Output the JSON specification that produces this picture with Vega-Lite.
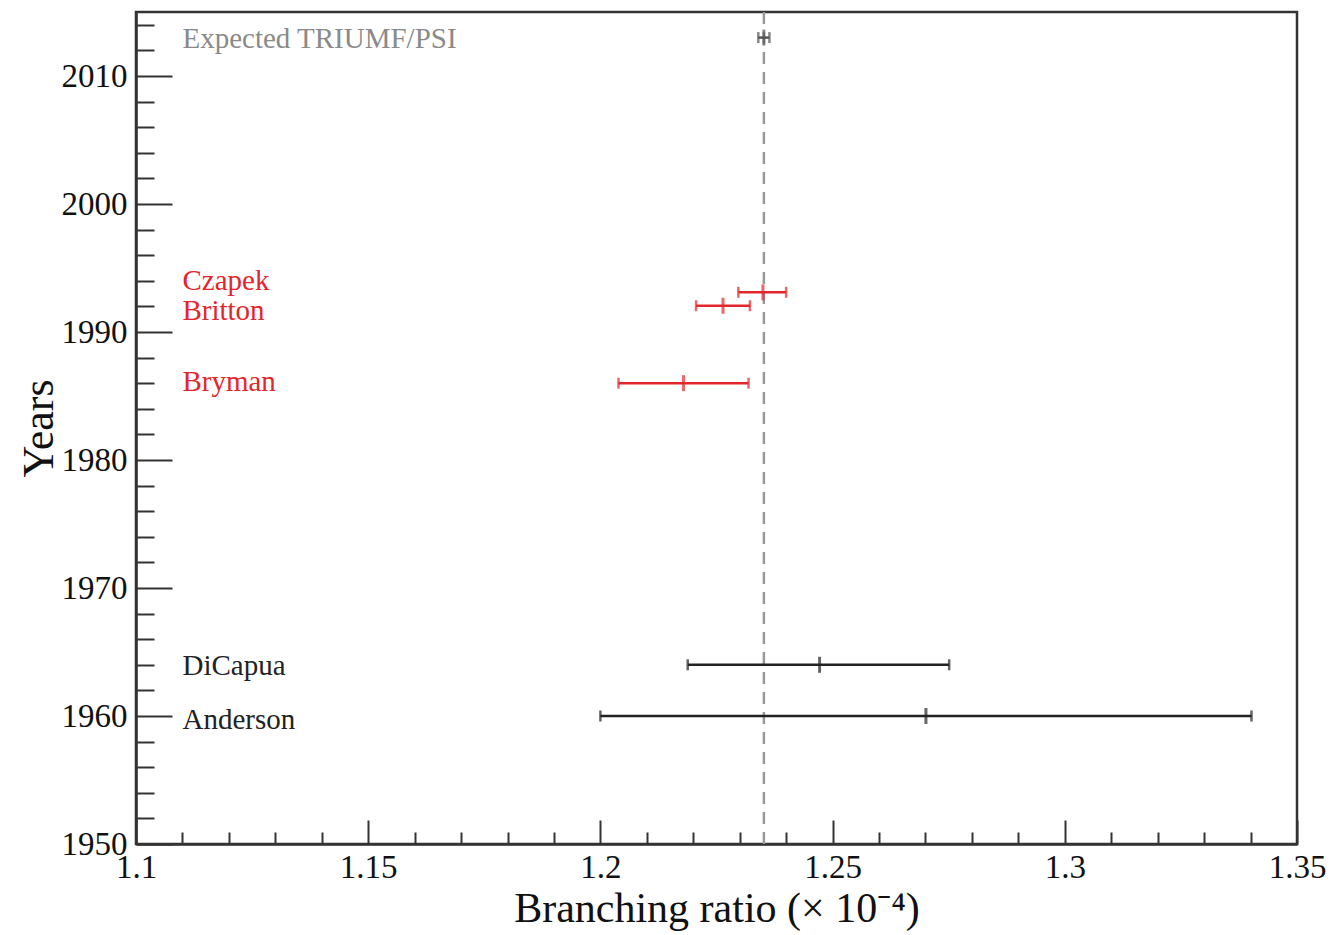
{
  "$schema": "https://vega.github.io/schema/vega-lite/v6.json",
  "width": 1161,
  "height": 832,
  "autosize": "none",
  "padding": {"left": 136, "top": 12, "right": 38, "bottom": 91},
  "background": "white",
  "config": {
    "view": {"stroke": "#333", "strokeWidth": 2.5},
    "font": "Liberation Serif",
    "axis": {"grid": false, "domainColor": "#333", "domainWidth": 2.5, "tickColor": "#333", "tickWidth": 2, "labelFont": "Liberation Serif", "titleFont": "Liberation Serif", "labelColor": "#111", "titleColor": "#111", "titleFontWeight": "normal", "labelOverlap": false, "labelFlush": false}
  },
  "datasets": {
    "meas": [
      {"name": "Expected TRIUMF/PSI", "group": "expected", "year": 2013, "br": 1.2352, "lo": 1.2340, "hi": 1.2364},
      {"name": "Czapek", "group": "psi", "year": 1993.1, "br": 1.2350, "lo": 1.2297, "hi": 1.2400},
      {"name": "Britton", "group": "psi", "year": 1992.05, "br": 1.2264, "lo": 1.2206, "hi": 1.2322},
      {"name": "Bryman", "group": "psi", "year": 1986.0, "br": 1.2179, "lo": 1.2039, "hi": 1.2319},
      {"name": "DiCapua", "group": "old", "year": 1964.0, "br": 1.2472, "lo": 1.2188, "hi": 1.2751},
      {"name": "Anderson", "group": "old", "year": 1960.0, "br": 1.2701, "lo": 1.2000, "hi": 1.3402}
    ],
    "ref": [{"br": 1.2352}]
  },
  "data": {"name": "meas"},
  "layer": [
    {
      "data": {"name": "ref"},
      "mark": {"type": "rule", "color": "#999", "strokeWidth": 2.5, "strokeDash": [12, 8]},
      "encoding": {
        "x": {
          "field": "br", "type": "quantitative",
          "scale": {"domain": [1.1, 1.35], "nice": false, "zero": false},
          "axis": {
            "values": [1.1,1.11,1.12,1.13,1.14,1.15,1.16,1.17,1.18,1.19,1.2,1.21,1.22,1.23,1.24,1.25,1.26,1.27,1.28,1.29,1.3,1.31,1.32,1.33,1.34,1.35],
            "tickCount": 60,
            "format": "~g",
            "labelExpr": "round(datum.value*100) % 5 == 0 ? datum.label : ''",
            "labelOverlap": false,
            "labelFlush": false,
            "tickSize": {"condition": {"test": "round(datum.value*100) % 5 == 0", "value": -24}, "value": -12},
            "labelFontSize": 33,
            "labelPadding": 31,
            "title": "Branching ratio (× 10⁻⁴)",
            "titleFontSize": 42,
            "titlePadding": -8
          }
        }
      }
    },
    {
      "mark": {"type": "rule", "strokeWidth": 2.5},
      "encoding": {
        "x": {"field": "lo", "type": "quantitative"},
        "x2": {"field": "hi"},
        "y": {
          "field": "year", "type": "quantitative",
          "scale": {"domain": [1950, 2015], "nice": false, "zero": false},
          "axis": {
            "values": [1950,1952,1954,1956,1958,1960,1962,1964,1966,1968,1970,1972,1974,1976,1978,1980,1982,1984,1986,1988,1990,1992,1994,1996,1998,2000,2002,2004,2006,2008,2010,2012,2014],
            "tickCount": 60,
            "format": "d",
            "labelExpr": "datum.value % 10 == 0 ? datum.label : ''",
            "labelOverlap": false,
            "tickSize": {"condition": {"test": "datum.value % 10 == 0", "value": -36}, "value": -18},
            "labelFontSize": 33,
            "labelPadding": 45,
            "title": "Years",
            "titleFontSize": 44,
            "titlePadding": 0
          }
        },
        "color": {"field": "group", "type": "nominal", "scale": {"domain": ["expected", "psi", "old"], "range": ["#555", "#e3262b", "#222"]}, "legend": null}
      }
    },
    {
      "mark": {"type": "tick", "orient": "vertical", "size": 11, "thickness": 2.5},
      "encoding": {
        "x": {"field": "lo", "type": "quantitative"},
        "y": {"field": "year", "type": "quantitative"},
        "color": {"field": "group", "type": "nominal", "legend": null}
      }
    },
    {
      "mark": {"type": "tick", "orient": "vertical", "size": 11, "thickness": 2.5},
      "encoding": {
        "x": {"field": "hi", "type": "quantitative"},
        "y": {"field": "year", "type": "quantitative"},
        "color": {"field": "group", "type": "nominal", "legend": null}
      }
    },
    {
      "mark": {"type": "tick", "orient": "vertical", "size": 16, "thickness": 3},
      "encoding": {
        "x": {"field": "br", "type": "quantitative"},
        "y": {"field": "year", "type": "quantitative"},
        "color": {"field": "group", "type": "nominal", "legend": null}
      }
    },
    {
      "transform": [{"filter": "datum.name == 'Expected TRIUMF/PSI'"}],
      "mark": {"type": "text", "align": "left", "baseline": "middle", "fontSize": 29, "color": "#8a8a8a", "font": "Liberation Serif", "dy": 1},
      "encoding": {"x": {"datum": 1.11}, "y": {"field": "year", "type": "quantitative"}, "text": {"field": "name"}}
    },
    {
      "transform": [{"filter": "datum.name == 'Czapek'"}],
      "mark": {"type": "text", "align": "left", "baseline": "middle", "fontSize": 29, "color": "#e3262b", "font": "Liberation Serif", "dy": -11},
      "encoding": {"x": {"datum": 1.11}, "y": {"field": "year", "type": "quantitative"}, "text": {"field": "name"}}
    },
    {
      "transform": [{"filter": "datum.name == 'Britton'"}],
      "mark": {"type": "text", "align": "left", "baseline": "middle", "fontSize": 29, "color": "#e3262b", "font": "Liberation Serif", "dy": 5},
      "encoding": {"x": {"datum": 1.11}, "y": {"field": "year", "type": "quantitative"}, "text": {"field": "name"}}
    },
    {
      "transform": [{"filter": "datum.name == 'Bryman'"}],
      "mark": {"type": "text", "align": "left", "baseline": "middle", "fontSize": 29, "color": "#e3262b", "font": "Liberation Serif", "dy": -1},
      "encoding": {"x": {"datum": 1.11}, "y": {"field": "year", "type": "quantitative"}, "text": {"field": "name"}}
    },
    {
      "transform": [{"filter": "datum.name == 'DiCapua'"}],
      "mark": {"type": "text", "align": "left", "baseline": "middle", "fontSize": 29, "color": "#222", "font": "Liberation Serif", "dy": 1},
      "encoding": {"x": {"datum": 1.11}, "y": {"field": "year", "type": "quantitative"}, "text": {"field": "name"}}
    },
    {
      "transform": [{"filter": "datum.name == 'Anderson'"}],
      "mark": {"type": "text", "align": "left", "baseline": "middle", "fontSize": 29, "color": "#222", "font": "Liberation Serif", "dy": 4},
      "encoding": {"x": {"datum": 1.11}, "y": {"field": "year", "type": "quantitative"}, "text": {"field": "name"}}
    }
  ]
}
